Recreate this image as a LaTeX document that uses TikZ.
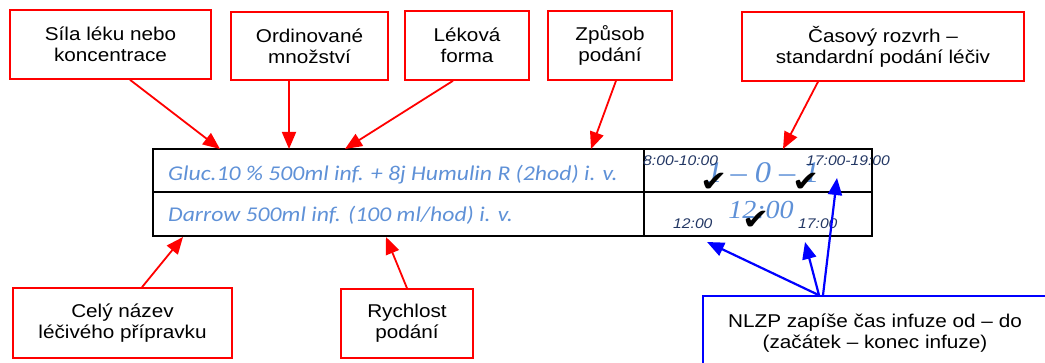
\documentclass[tikz,border=0pt]{standalone}
\usepackage{fontspec}
\setmainfont{Liberation Sans}[FakeStretch=1.12]
\newfontfamily\calibrifont{Carlito}[FakeStretch=1.13]
\newfontfamily\timesfont{Liberation Serif}[FakeStretch=1.08]
\newfontfamily\symbfont{DejaVu Sans}[FakeStretch=1.12]
\usepackage{xcolor}
\usetikzlibrary{arrows.meta}

\definecolor{labelred}{RGB}{255,0,0}
\definecolor{noteblue}{RGB}{0,0,255}
\definecolor{medblue}{RGB}{95,145,215}
\definecolor{timenavy}{RGB}{35,55,100}

\begin{document}
\begin{tikzpicture}[x=1pt, y=-1pt,
  lbox/.style={draw=labelred, line width=1.6pt, fill=white, align=center, inner sep=0pt,
    font=\fontsize{18.5}{21}\selectfont},
  nbox/.style={lbox, draw=noteblue},
  cell/.style={draw=black, line width=2.6pt, inner sep=0pt},
  medtxt/.style={font=\calibrifont\itshape\fontsize{21}{22}\selectfont, text=medblue, inner sep=0pt, anchor=base west},
  timetxt/.style={font=\itshape\fontsize{14}{16}\selectfont, text=timenavy, inner sep=0pt, anchor=base west},
  bigtxt/.style={font=\timesfont\itshape, text=medblue, inner sep=0pt, anchor=base},
  tick/.style={font=\symbfont\fontsize{29}{29}\selectfont, inner sep=0pt},
  redarr/.style={draw=labelred, line width=1.8pt, -{Triangle[length=17pt, width=14pt]}},
  bluearr/.style={draw=noteblue, line width=2.2pt, -{Triangle[length=17pt, width=14pt]}}
]
\useasboundingbox (0,0) rectangle (1045,363);
\clip (0,0) rectangle (1045,363);

% table
\node[cell, minimum width=491, minimum height=43] (med1) at (398.5,170.5) {};
\node[cell, minimum width=491, minimum height=44] (med2) at (398.5,214) {};
\node[cell, minimum width=228, minimum height=43] (time1) at (758,170.5) {};
\node[cell, minimum width=228, minimum height=44] (time2) at (758,214) {};

\node[medtxt] (gluc) at (168,181) {Gluc.10 \% 500ml inf. + 8j Humulin R (2hod) i. v.};
\node[medtxt] (darrow) at (168,222) {Darrow 500ml inf. (100 ml/hod) i. v.};

\node[bigtxt, font=\timesfont\itshape\fontsize{30}{30}\selectfont] (plan1) at (763,183) {1 – 0 – 1};
\node[bigtxt, font=\timesfont\itshape\fontsize{26}{26}\selectfont] (plan2) at (761,219) {12:00};

\node[timetxt] (from1) at (643,166) {8:00-10:00};
\node[timetxt] (to1) at (806,166) {17:00-19:00};
\node[timetxt] (from2) at (673,229) {12:00};
\node[timetxt] (to2) at (798,229) {17:00};

\node[tick] (ok1) at (714,182) {✔};
\node[tick] (ok2) at (806,182) {✔};
\node[tick] (ok3) at (756,220) {✔};

% labels above
\node[lbox, minimum width=201, minimum height=69] (sila) at (110.5,44.5) {Síla léku nebo\\koncentrace};
\node[lbox, minimum width=157, minimum height=68] (mnoz) at (309.5,46) {Ordinované\\množství};
\node[lbox, minimum width=124, minimum height=69] (forma) at (467,45.5) {Léková\\forma};
\node[lbox, minimum width=124, minimum height=69] (zpusob) at (610,45.5) {Způsob\\podání};
\node[lbox, minimum width=282, minimum height=69] (rozvrh) at (883,46.5) {Časový rozvrh –\\standardní podání léčiv};

% labels below
\node[lbox, minimum width=219, minimum height=70] (nazev) at (122.5,323) {Celý název\\léčivého přípravku};
\node[lbox, minimum width=132, minimum height=69] (rychl) at (407,323.5) {Rychlost\\podání};
\node[nbox, minimum width=344, minimum height=74] (nlzp) at (875,333) {NLZP zapíše čas infuze od – do\\(začátek – konec infuze)};

% arrow ends
\coordinate (t1) at (220,149);
\coordinate (t2) at (289,149);
\coordinate (t3) at (345,149);
\coordinate (t4) at (591,149);
\coordinate (t5) at (783,149);
\coordinate (b1) at (183,237);
\coordinate (b2) at (386,237);
\coordinate (s1) at (707,242);
\coordinate (s2) at (805,242);
\coordinate (s3) at (837,178);

\draw[redarr] ([xshift=19.5pt]sila.south) -- (t1);
\draw[redarr] ([xshift=-20.5pt]mnoz.south) -- (t2);
\draw[redarr] ([xshift=-14pt]forma.south) -- (t3);
\draw[redarr] ([xshift=6pt]zpusob.south) -- (t4);
\draw[redarr] ([xshift=-65pt]rozvrh.south) -- (t5);
\draw[redarr] ([xshift=19.5pt]nazev.north) -- (b1);
\draw[redarr] (rychl.north) -- (b2);
\draw[bluearr] ([xshift=-56pt]nlzp.north) -- (s1);
\draw[bluearr] ([xshift=-56pt]nlzp.north) -- (s2);
\draw[bluearr] ([xshift=-52pt]nlzp.north) -- (s3);

\end{tikzpicture}
\end{document}
